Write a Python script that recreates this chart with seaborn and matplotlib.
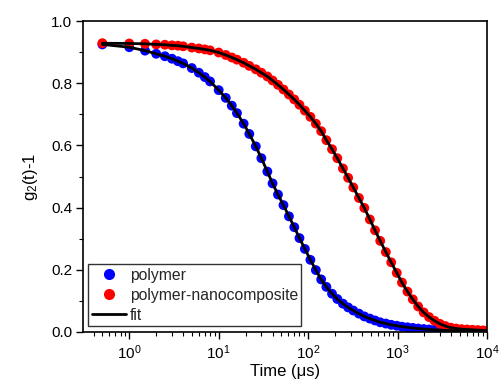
import pandas as pd
import seaborn as sns
import matplotlib.pyplot as plt
from matplotlib.lines import Line2D
from matplotlib.ticker import MultipleLocator, FormatStrFormatter

# correlator lag times (microseconds)
time_us = [0.5, 1, 1.5, 2, 2.5, 3, 3.5, 4, 5, 6, 7, 8, 10, 12, 14, 16, 19, 22, 26, 30,
           35, 40, 46, 53, 61, 70, 80, 92, 106, 122, 140, 160, 185, 212, 245, 280,
           320, 370, 425, 490, 560, 640, 740, 850, 980, 1120, 1290, 1480, 1700, 1960,
           2250, 2590, 2980, 3420, 3930, 4520, 5200, 5980, 6870, 7900, 9080]

polymer = [0.925, 0.916, 0.905, 0.895, 0.887, 0.879, 0.871, 0.864, 0.849, 0.834, 0.820, 0.806,
           0.778, 0.753, 0.728, 0.704, 0.670, 0.637, 0.597, 0.559, 0.516, 0.478, 0.442, 0.408,
           0.372, 0.337, 0.302, 0.267, 0.232, 0.199, 0.169, 0.145, 0.123, 0.106, 0.091, 0.079,
           0.069, 0.059, 0.050, 0.043, 0.037, 0.031, 0.027, 0.023, 0.020, 0.017, 0.015, 0.013,
           0.011, 0.0095, 0.008, 0.007, 0.006, 0.005, 0.0045, 0.004, 0.0035, 0.003, 0.003,
           0.0025, 0.002]

nanocomposite = [0.929, 0.928, 0.927, 0.925, 0.924, 0.922, 0.921, 0.919, 0.915, 0.912, 0.909, 0.906,
                 0.899, 0.891, 0.883, 0.876, 0.866, 0.856, 0.845, 0.834, 0.822, 0.809, 0.795, 0.780,
                 0.764, 0.748, 0.731, 0.712, 0.692, 0.670, 0.646, 0.617, 0.588, 0.559, 0.526, 0.496,
                 0.465, 0.431, 0.399, 0.362, 0.327, 0.293, 0.257, 0.224, 0.190, 0.159, 0.130, 0.105,
                 0.082, 0.063, 0.048, 0.036, 0.026, 0.019, 0.014, 0.011, 0.009, 0.008, 0.007,
                 0.006, 0.005]

# fit curves run on to 10^4 us
fit_end_time = 10000
fit_end_polymer = 0.002
fit_end_nano = 0.004

labels = ["polymer", "polymer-nanocomposite"]
colors = {"polymer": "#0000ff", "polymer-nanocomposite": "#ff0000"}

sns.set_theme(style="ticks")
plt.rcParams["font.family"] = ["Liberation Sans", "DejaVu Sans"]
plt.rcParams["mathtext.fontset"] = "custom"
plt.rcParams["mathtext.rm"] = "Liberation Sans"
plt.rcParams["mathtext.it"] = "Liberation Sans:italic"

n = len(time_us)
df = pd.DataFrame({
    "time": time_us * 2,
    "g2": polymer + nanocomposite,
    "sample": [labels[0]] * n + [labels[1]] * n,
})
fit_df = pd.DataFrame({
    "time": (time_us + [fit_end_time]) * 2,
    "g2": polymer + [fit_end_polymer] + nanocomposite + [fit_end_nano],
    "sample": [labels[0]] * (n + 1) + [labels[1]] * (n + 1),
})

fig = plt.figure(figsize=(5.01, 3.91), dpi=100)
ax = fig.add_axes([0.166, 0.151, 0.806, 0.795])
ax.set_xscale("log")

sns.scatterplot(data=df, x="time", y="g2", hue="sample", palette=colors, s=50,
                linewidth=0, legend=False, ax=ax, zorder=2)
sns.lineplot(data=fit_df, x="time", y="g2", units="sample", estimator=None,
             color="black", linewidth=2, ax=ax, zorder=3)

ax.set_xlim(0.305, 1e4)
ax.set_ylim(0, 1.0)
ax.yaxis.set_major_locator(MultipleLocator(0.2))
ax.yaxis.set_minor_locator(MultipleLocator(0.1))
ax.yaxis.set_major_formatter(FormatStrFormatter("%.1f"))

for s in ax.spines.values():
    s.set_color("black")
    s.set_linewidth(1.2)
ax.tick_params(which="major", direction="out", length=5, width=1, color="black",
               labelsize=11, labelcolor="black", pad=3)
ax.tick_params(which="minor", direction="out", length=3, width=0.8, color="black")

ax.set_xlabel("Time (\u03bcs)", fontsize=12, color="black", labelpad=2)
ax.set_ylabel("g$_2$(t)-1", fontsize=12, color="black", labelpad=8)

handles = [
    Line2D([], [], marker="o", ls="", color=colors[labels[0]], markersize=7),
    Line2D([], [], marker="o", ls="", color=colors[labels[1]], markersize=7),
    Line2D([], [], color="black", linewidth=2),
]
leg = ax.legend(handles, labels + ["fit"], loc="lower left", bbox_to_anchor=(0.013, 0.02),
                borderaxespad=0, fontsize=11.3, frameon=True, fancybox=False,
                edgecolor="black", handlelength=2.2, handletextpad=0.25,
                borderpad=0.2, labelspacing=0.32)
leg.get_frame().set_linewidth(1)

plt.savefig("out.png", dpi=100)
plt.close()
